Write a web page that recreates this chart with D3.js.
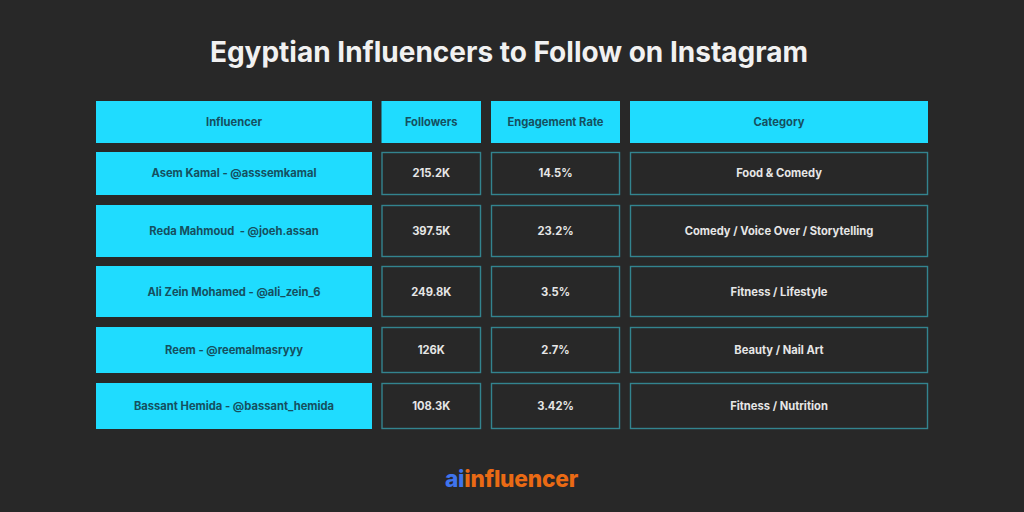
<!DOCTYPE html>
<html><head><meta charset="utf-8">
<script src="https://cdn.jsdelivr.net/npm/d3@7/dist/d3.min.js"></script>
<style>html,body{margin:0;padding:0;background:#282828}svg{display:block}text{font-family:Inter,Roboto,sans-serif}</style>
</head><body><svg id="c" width="1024" height="512"></svg>
<script>
const titleText = "Egyptian Influencers to Follow on Instagram";
const columns = ["Influencer","Followers","Engagement Rate","Category"];
const influencers = ["Asem Kamal - @asssemkamal","Reda Mahmoud  - @joeh.assan","Ali Zein Mohamed - @ali_zein_6","Reem - @reemalmasryyy","Bassant Hemida - @bassant_hemida"];
const followers = ["215.2K","397.5K","249.8K","126K","108.3K"];
const engagement = ["14.5%","23.2%","3.5%","2.7%","3.42%"];
const categories = ["Food & Comedy","Comedy / Voice Over / Storytelling","Fitness / Lifestyle","Beauty / Nail Art","Fitness / Nutrition"];

// layout
const colX = d3.scaleOrdinal().domain(columns).range([[96,372],[381.5,481],[491,620],[630,928]]);
const rowIdx = d3.range(influencers.length + 1);
const rowY = d3.scaleOrdinal().domain(rowIdx).range([[101,143],[152,195],[205,257],[266,317],[327,373],[383,429]]);
const rowTextY = d3.scaleOrdinal().domain(rowIdx).range([126,177,235,296,354,410]);

const rows = [columns].concat(influencers.map((n,i)=>[n,followers[i],engagement[i],categories[i]]));
const cells = rows.flatMap((r,i)=>r.map((t,j)=>({t,i,j,col:columns[j]})));
const svg = d3.select("#c");
svg.append("rect").attr("width",1024).attr("height",512).attr("fill","#282828");
svg.append("text").attr("x",509).attr("y",62).attr("text-anchor","middle")
  .attr("font-size",28).attr("font-weight",700).attr("fill","#f1f1f1").text(titleText);

const filled = d=>d.i===0||d.j===0;
const g = svg.selectAll("g.cell").data(cells).join("g").attr("class","cell");
g.append("rect")
  .attr("x",d=>colX(d.col)[0]+(filled(d)?0:0.5))
  .attr("y",d=>rowY(d.i)[0]+(filled(d)?0:0.5))
  .attr("width",d=>colX(d.col)[1]-colX(d.col)[0]-(filled(d)?0:1))
  .attr("height",d=>rowY(d.i)[1]-rowY(d.i)[0]-(filled(d)?0:1))
  .attr("fill",d=>filled(d)?"#1fdcff":"none")
  .attr("stroke",d=>filled(d)?"none":"#33848f").attr("stroke-width",1.4);
g.append("text")
  .attr("x",d=>(colX(d.col)[0]+colX(d.col)[1])/2)
  .attr("y",d=>rowTextY(d.i))
  .attr("text-anchor","middle").style("white-space","pre")
  .attr("font-size",11.2).attr("font-weight",700)
  .attr("fill",d=>filled(d)?"#15505f":"#e6e6e6").text(d=>d.t);

const logo = svg.append("text").attr("x",511.5).attr("y",487).attr("text-anchor","middle")
  .attr("font-size",22.7).attr("font-weight",800).attr("letter-spacing",-0.2);
logo.append("tspan").attr("fill","#3f74ee").text("ai");
logo.append("tspan").attr("fill","#ea6a14").text("influencer");
</script></body></html>
